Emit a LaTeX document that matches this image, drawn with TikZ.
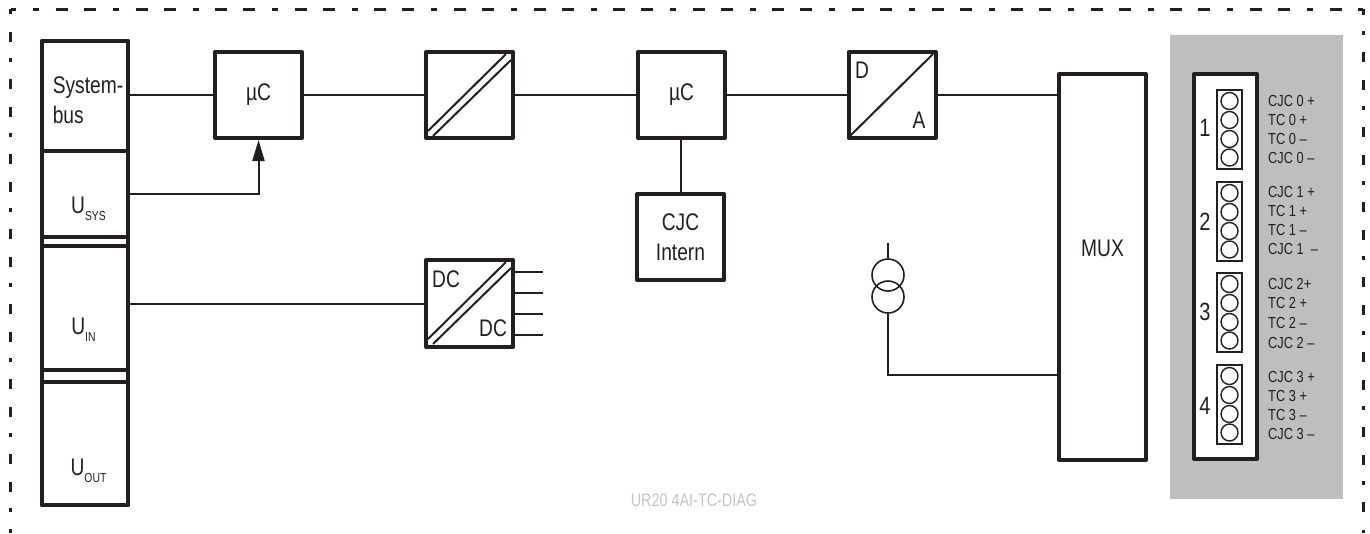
\documentclass[tikz,border=0pt]{standalone}
\usepackage{fontspec}
\usepackage{xcolor}
\usetikzlibrary{arrows.meta}
\setmainfont{Liberation Sans}[FakeStretch=0.8]
\definecolor{inkdark}{HTML}{231F20}
\definecolor{areagray}{HTML}{BCBEC0}
\definecolor{notegray}{HTML}{C2C4C6}
\newcommand{\usub}[1]{U\raisebox{-7pt}{\fontsize{13}{13}\selectfont #1}}
\tikzset{
    block/.style={draw=inkdark,line width=4pt,line join=round,rectangle,inner sep=0pt,text=inkdark,align=center,
        font=\fontsize{24}{30}\selectfont},
    wire/.style={draw=inkdark,line width=2pt},
    txt/.style={inner sep=0pt,text=inkdark,font=\fontsize{24}{30}\selectfont},
    num/.style={inner sep=0pt,text=inkdark,font=\fontsize{25}{25}\selectfont},
    small/.style={inner sep=0pt,anchor=west,text=inkdark,font=\fontsize{16}{16}\selectfont},
    strip/.style={draw=inkdark,fill=white,line width=1.7pt,rectangle,inner sep=0pt,minimum width=25pt,minimum height=79pt},
    pin/.style={draw=inkdark,line width=1.4pt,circle,inner sep=0pt,minimum size=17pt},
    source/.style={draw=inkdark,line width=1.6pt,circle,inner sep=0pt,minimum size=32pt},
    frame/.style={draw=inkdark,line width=3pt}
}
\begin{document}
\begin{tikzpicture}[x=1pt,y=-1pt]
    \useasboundingbox (0,0) rectangle (1370,533);
    % frame
    \draw[frame,dash pattern=on 12pt off 16pt on 12pt off 17pt on 6pt off 16.6pt,dash phase=34.1pt] (10.5,9)--(1363,9);
    \draw[frame,dash pattern=on 10pt off 18pt on 10pt off 16pt on 4pt off 17pt,dash phase=5pt] (10.5,9)--(10.5,533);
    \draw[frame,dash pattern=on 10pt off 18pt on 10pt off 16pt on 4pt off 17pt,dash phase=32pt] (1363,9)--(1363,533);
    % left column
    \node[block,minimum width=86pt,minimum height=464pt] (column) at (85,273) {};
    \node[block,minimum width=86pt,minimum height=109.5pt] (sysbus) at (85,95.75) {};
    \node[block,minimum width=86pt,minimum height=86.5pt] (usys) at (85,193.75) {};
    \node[block,minimum width=86pt,minimum height=124pt] (uin) at (85,308) {};
    \node[block,minimum width=86pt,minimum height=123pt] (uout) at (85,443.5) {};
    \node[txt,align=left] (sysbustext) at (88,100) {System-\\bus};
    \node[txt] (usystext) at (88.5,209) {\usub{SYS}};
    \node[txt] (uintext) at (83.5,330) {\usub{IN}};
    \node[txt] (uouttext) at (88.5,471) {\usub{OUT}};
    % top row
    \node[block,minimum width=87pt,minimum height=86pt] (mcone) at (258.5,95) {µC};
    \node[block,minimum width=87pt,minimum height=86pt] (conv) at (469.5,95) {};
    \node[block,minimum width=87pt,minimum height=86pt] (mctwo) at (681.5,95) {µC};
    \node[block,minimum width=87pt,minimum height=86pt] (dac) at (892,95) {};
    \node[block,minimum width=87pt,minimum height=86pt] (cjc) at (680.5,237) {CJC\\Intern};
    \node[block,minimum width=87pt,minimum height=87pt] (dcdc) at (469.5,303.5) {};
    \node[block,minimum width=87pt,minimum height=386pt] (mux) at (1102.5,267) {};
    \node[txt] (muxtext) at (1102.5,248) {MUX};
    \node[txt] (dtext) at (862,70) {D};
    \node[txt] (atext) at (919,120) {A};
    \node[txt] (dcin) at (446,279) {DC};
    \node[txt] (dcout) at (493,328) {DC};
    % converter strokes
    \draw[wire] (428,131)--(506,54);
    \draw[wire] (433,136)--(511,60);
    \draw[wire] (850,136)--(933,54);
    \draw[wire] (428,339)--(506,262);
    \draw[wire] (433,344)--(511,268);
    % connectors
    \draw[wire] (sysbus.east |- mcone.west)--(mcone.west);
    \draw[wire] (mcone)--(conv);
    \draw[wire] (conv)--(mctwo);
    \draw[wire] (mctwo)--(dac);
    \draw[wire] (dac.east)--(dac.east -| mux.west);
    \draw[wire] (mctwo.south -| cjc.north)--(cjc.north);
    \draw[wire,-{Triangle[length=21pt,width=12pt]}] (usys.east) -| (mcone.south);
    \draw[wire] (dcdc.west)--(dcdc.west -| uin.east);
    \coordinate (stuba) at (543,272);
    \coordinate (stubb) at (543,293);
    \coordinate (stubc) at (543,314);
    \coordinate (stubd) at (543,335);
    \draw[wire] (dcdc.east |- stuba)--(stuba);
    \draw[wire] (dcdc.east |- stubb)--(stubb);
    \draw[wire] (dcdc.east |- stubc)--(stubc);
    \draw[wire] (dcdc.east |- stubd)--(stubd);
    % source
    \node[source] (srcup) at (888,275) {};
    \node[source] (srcdown) at (888,297) {};
    \coordinate (srctop) at (888,243);
    \draw[wire] (srctop)--(srcup.north);
    \draw[wire] (srcdown.south) |- (mux.west |- 0,375);
    % terminal area
    \node[fill=areagray,rectangle,inner sep=0pt,minimum width=173pt,minimum height=464pt] (termarea) at (1256.5,267) {};
    \node[draw=inkdark,fill=white,line width=4pt,line join=round,rectangle,inner sep=0pt,minimum width=63pt,minimum height=385pt] (termbox) at (1225.5,266.5) {};
    \node[strip] (stripa) at (1229.5,129.5) {};
    \node[strip] (stripb) at (1229.5,221.5) {};
    \node[strip] (stripc) at (1229.5,312.5) {};
    \node[strip] (stripd) at (1229.5,404.5) {};
    \node[pin] (a1) at (1229.5,101) {};
    \node[pin] (a2) at (1229.5,120) {};
    \node[pin] (a3) at (1229.5,139) {};
    \node[pin] (a4) at (1229.5,157.5) {};
    \node[pin] (b1) at (1229.5,193) {};
    \node[pin] (b2) at (1229.5,212) {};
    \node[pin] (b3) at (1229.5,231) {};
    \node[pin] (b4) at (1229.5,249.5) {};
    \node[pin] (c1) at (1229.5,284) {};
    \node[pin] (c2) at (1229.5,303) {};
    \node[pin] (c3) at (1229.5,322) {};
    \node[pin] (c4) at (1229.5,340.5) {};
    \node[pin] (d1) at (1229.5,376) {};
    \node[pin] (d2) at (1229.5,395) {};
    \node[pin] (d3) at (1229.5,414) {};
    \node[pin] (d4) at (1229.5,432.5) {};
    \node[num] (numa) at (1205,128) {1};
    \node[num] (numb) at (1205,222) {2};
    \node[num] (numc) at (1205,312) {3};
    \node[num] (numd) at (1205,406) {4};
    \node[small] (la1) at (1268,101) {CJC 0 +};
    \node[small] (la2) at (1268,120) {TC 0 +};
    \node[small] (la3) at (1268,139) {TC 0 –};
    \node[small] (la4) at (1268,158) {CJC 0 –};
    \node[small] (lb1) at (1268,192) {CJC 1 +};
    \node[small] (lb2) at (1268,211) {TC 1 +};
    \node[small] (lb3) at (1268,230) {TC 1 –};
    \node[small] (lb4) at (1268,249) {CJC 1 \ –};
    \node[small] (lc1) at (1268,284) {CJC 2+};
    \node[small] (lc2) at (1268,303) {TC 2 +};
    \node[small] (lc3) at (1268,323) {TC 2 –};
    \node[small] (lc4) at (1268,343) {CJC 2 –};
    \node[small] (ld1) at (1268,377) {CJC 3 +};
    \node[small] (ld2) at (1268,396) {TC 3 +};
    \node[small] (ld3) at (1268,415) {TC 3 –};
    \node[small] (ld4) at (1268,434) {CJC 3 –};
    % title
    \node[inner sep=0pt,text=notegray,font=\fontsize{18}{18}\selectfont] (modname) at (694,500) {UR20 4AI-TC-DIAG};
\end{tikzpicture}
\end{document}
